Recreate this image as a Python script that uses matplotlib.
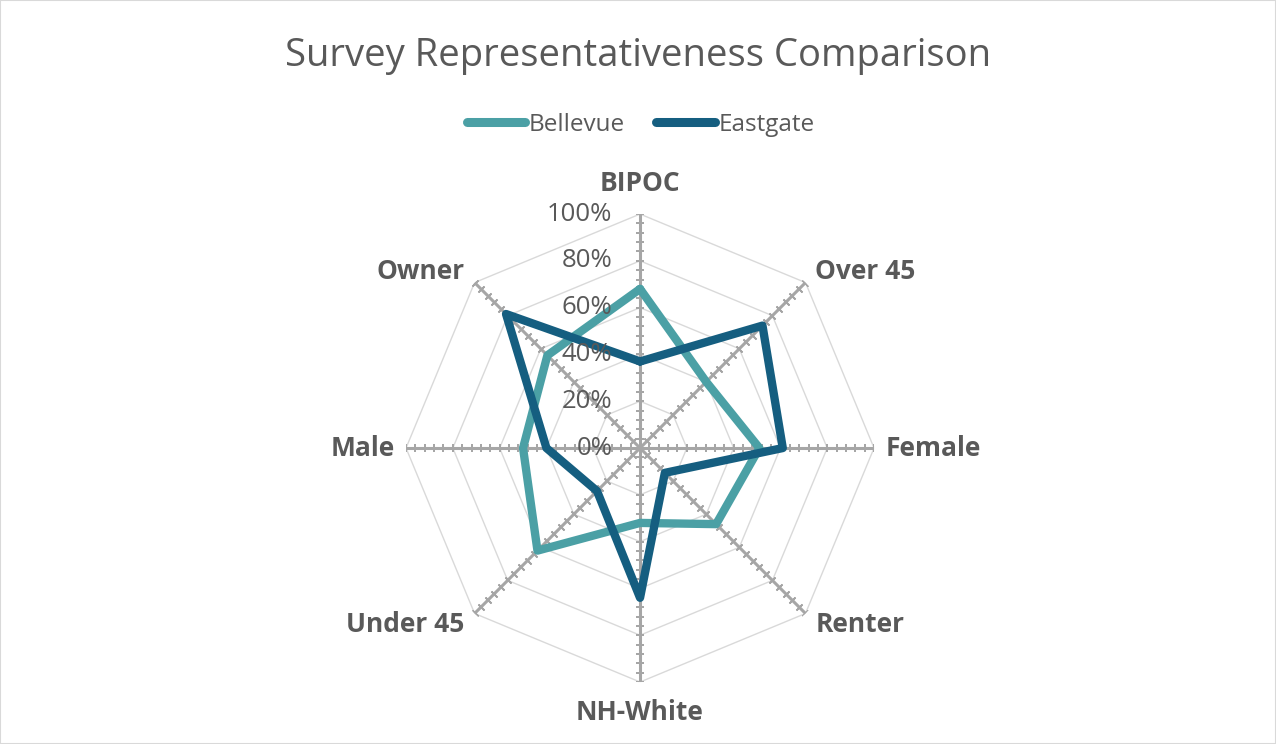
import numpy as np
import matplotlib
matplotlib.use('Agg')
import matplotlib.pyplot as plt
from matplotlib.lines import Line2D
from matplotlib.patches import Rectangle

# データ
categories = ['BIPOC', 'Over 45', 'Female', 'Renter',
              'NH-White', 'Under 45', 'Male', 'Owner']
bellevue = [0.68, 0.40, 0.51, 0.46, 0.32, 0.62, 0.50, 0.56]
eastgate = [0.37, 0.74, 0.61, 0.15, 0.64, 0.26, 0.40, 0.81]
r_levels = [0.0, 0.2, 0.4, 0.6, 0.8, 1.0]
r_labels = ['0%', '20%', '40%', '60%', '80%', '100%']
series_names = ['Bellevue', 'Eastgate']

TEXT = '#595959'
C_BEL = '#4BA0A5'
C_EAST = '#155E80'

plt.rcParams['font.family'] = ['Open Sans', 'DejaVu Sans']

fig = plt.figure(figsize=(12.76, 7.44), dpi=100)
fig.patches.append(Rectangle((0, 0), 1, 1, transform=fig.transFigure,
                             fill=False, edgecolor='#d9d9d9', linewidth=1.5))

ax = fig.add_axes([0.3182, 0.0833, 0.3668, 0.629], projection='polar')
ax.set_theta_offset(np.pi / 2)
ax.set_theta_direction(-1)
ax.set_ylim(0, 1)
ax.grid(False)
ax.spines['polar'].set_visible(False)
ax.set_xticks([])
ax.set_yticks([])
ax.patch.set_visible(False)

n = len(categories)
theta = np.arange(n) * 2 * np.pi / n
theta_closed = np.append(theta, theta[0])

# 八角形のグリッド線
for r in r_levels[1:]:
    ax.plot(theta_closed, [r] * (n + 1), color='#d9d9d9',
            linewidth=1.0, zorder=1)

# 軸線と目盛り
tick_r = np.arange(0.04, 1.001, 0.04)
for i, t in enumerate(theta):
    ax.plot([t, t], [0, 1], color='#a6a6a6', linewidth=2.2, zorder=2,
            solid_capstyle='butt')
    phi = 90 - 45 * i
    ax.plot([t] * len(tick_r), tick_r, linestyle='none',
            marker=(2, 2, phi), markersize=6, markeredgewidth=1.3,
            color='#a6a6a6', zorder=2)

# データ系列
for vals, color in zip([bellevue, eastgate], [C_BEL, C_EAST]):
    ax.plot(theta_closed, vals + vals[:1], color=color, linewidth=6,
            solid_joinstyle='round', solid_capstyle='round', zorder=3)

# 目盛りラベル
for r, lab in zip(r_levels, r_labels):
    ax.annotate(lab, xy=(0, r), xytext=(-20, 0), textcoords='offset points',
                ha='right', va='center', fontsize=18.5, color=TEXT, zorder=4)

# カテゴリラベル
align = [('center', 'bottom'), ('left', 'center'), ('left', 'center'),
         ('left', 'center'), ('center', 'top'), ('right', 'center'),
         ('right', 'center'), ('right', 'center')]
offsets = [(0, 12), (7, 8), (8, 0), (7, -8), (0, -12),
           (-7, -8), (-8, 0), (-7, 8)]
for t, lab, (ha, va), off in zip(theta, categories, align, offsets):
    ax.annotate(lab, xy=(t, 1.0), xytext=off, textcoords='offset points',
                ha=ha, va=va, fontsize=19, fontweight='bold', color=TEXT)

fig.suptitle('Survey Representativeness Comparison', y=0.95,
             fontsize=27.5, color=TEXT)

handles = [Line2D([], [], color=c, linewidth=6.5, solid_capstyle='round')
           for c in [C_BEL, C_EAST]]
fig.legend(handles, series_names, loc='center', bbox_to_anchor=(0.502, 0.832),
           ncol=2, frameon=False, fontsize=17.5, labelcolor=TEXT,
           handlelength=2.4, handletextpad=0.15, columnspacing=1.3)

fig.savefig('out.png', dpi=100)
